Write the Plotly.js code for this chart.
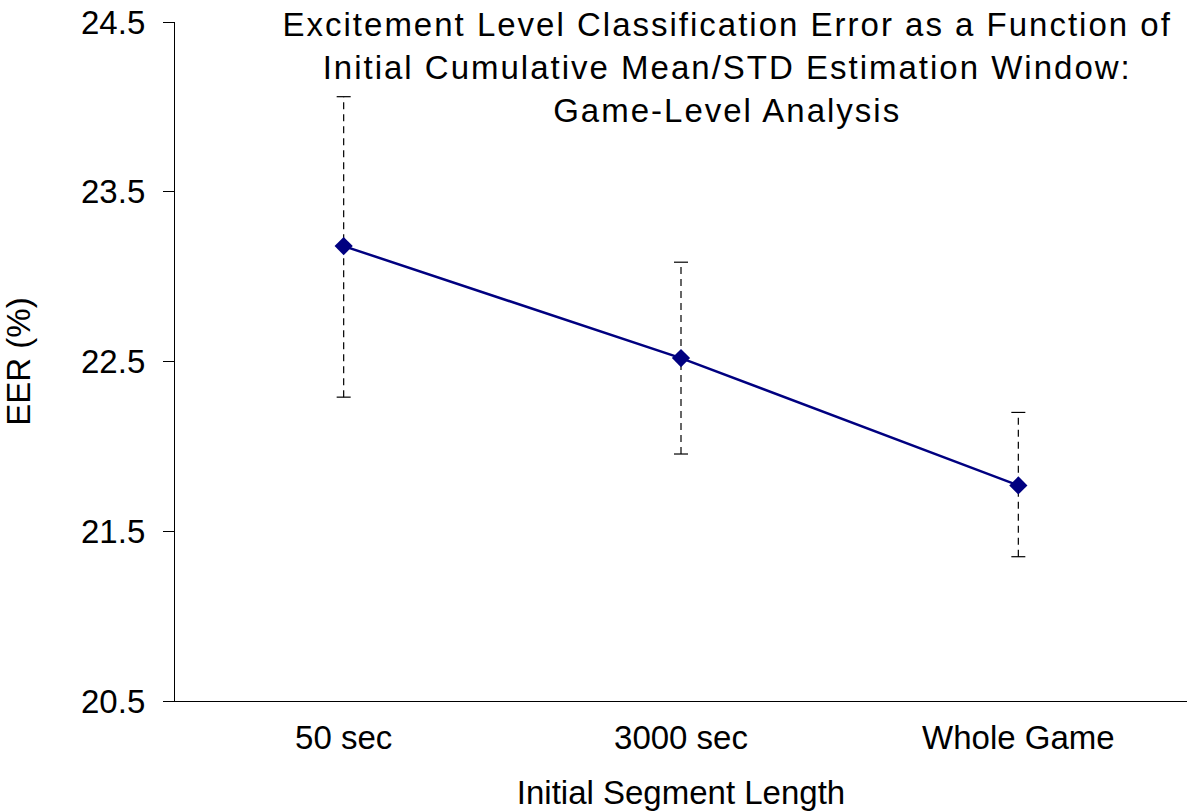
<!DOCTYPE html>
<html>
<head>
<meta charset="utf-8">
<script src="https://cdn.plot.ly/plotly-3.0.1.min.js"></script>
<style>html,body{margin:0;padding:0;background:#fff;}#chart{width:1200px;height:811px;}
.gtitle{letter-spacing:2px;}</style>
</head>
<body>
<div id="chart"></div>
<script>
const categories = ["50 sec", "3000 sec", "Whole Game"];
const eer = [23.18, 22.52, 21.77];
const errUp = [0.88, 0.565, 0.43];
const errDown = [0.89, 0.565, 0.42];
const yTicks = [20.5, 21.5, 22.5, 23.5, 24.5];

const FONT = "Liberation Sans, Arial, Helvetica, sans-serif";
const traces = [];

// dashed error bar stems
categories.forEach((c, i) => {
  traces.push({
    x: [c, c], y: [eer[i] - errDown[i], eer[i] + errUp[i]],
    mode: "lines", type: "scatter", showlegend: false, hoverinfo: "skip",
    line: {color: "#000", width: 1.2, dash: "7px,5px"}
  });
});
// caps
traces.push({
  x: categories.concat(categories),
  y: eer.map((v, i) => v + errUp[i]).concat(eer.map((v, i) => v - errDown[i])),
  mode: "markers", type: "scatter", showlegend: false, hoverinfo: "skip",
  marker: {symbol: "line-ew", size: 10, line: {color: "#000", width: 1.2}}
});
// main series
traces.push({
  x: categories, y: eer, mode: "lines+markers", type: "scatter", showlegend: false,
  line: {color: "#000080", width: 2.5},
  marker: {symbol: "diamond", size: 14, color: "#000080"}
});

const layout = {
  width: 1200, height: 811,
  margin: {l: 175, r: 13, t: 22, b: 110},
  paper_bgcolor: "#fff", plot_bgcolor: "#fff",
  font: {family: FONT, size: 33, color: "#000"},
  title: {
    text: "Excitement Level Classification Error as a Function of<br>Initial Cumulative Mean/STD Estimation Window:<br>Game-Level Analysis",
    font: {family: FONT, size: 33, color: "#000"},
    x: 0.606, xanchor: "center", xref: "container",
    y: 0.955, yanchor: "top", yref: "container"
  },
  xaxis: {
    type: "category", categoryorder: "array", categoryarray: categories,
    range: [-0.5, 2.5], showgrid: false, zeroline: false,
    showline: true, linecolor: "#000", linewidth: 1.3,
    ticks: "", ticklabelstandoff: 7,
    tickfont: {family: FONT, size: 33},
    title: {text: "Initial Segment Length", font: {family: FONT, size: 33}, standoff: 26}
  },
  yaxis: {
    range: [20.5, 24.5], tickvals: yTicks, ticktext: yTicks.map(v => v.toFixed(1)),
    showgrid: false, zeroline: false,
    showline: true, linecolor: "#000", linewidth: 1.3,
    ticks: "outside", ticklen: 11, tickcolor: "#000", tickwidth: 1.3,
    ticklabelstandoff: 11,
    tickfont: {family: FONT, size: 33},
    title: {text: "EER (%)", font: {family: FONT, size: 33}, standoff: 40}
  }
};

Plotly.newPlot("chart", traces, layout, {displayModeBar: false, responsive: false});
</script>
</body>
</html>
